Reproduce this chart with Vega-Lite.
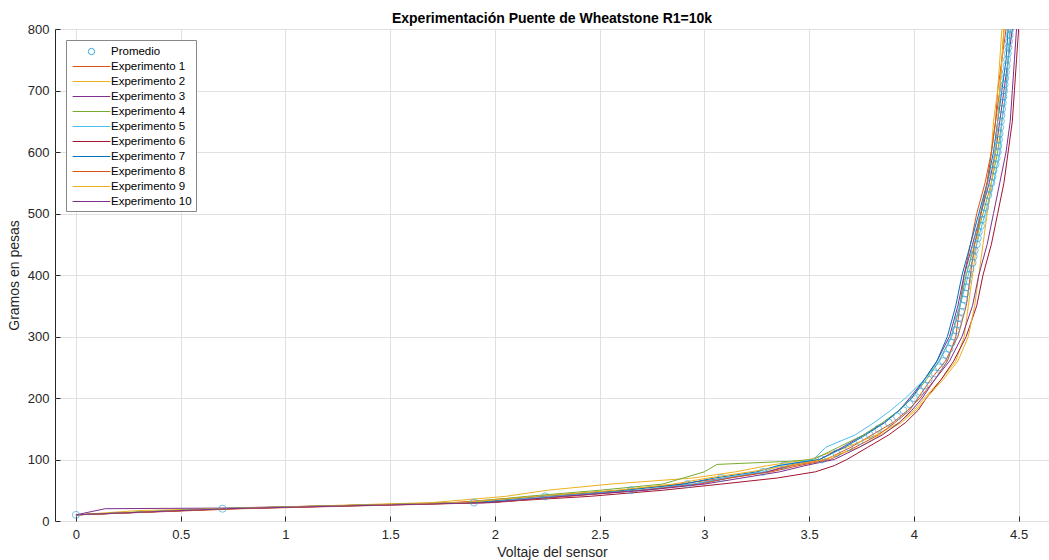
{
  "$schema": "https://vega.github.io/schema/vega-lite/v6.json",
  "autosize": {"type": "none"},
  "padding": {"left": 55, "top": 29, "right": 0, "bottom": 39},
  "width": 994,
  "height": 492,
  "background": "white",
  "title": {"text": "Experimentación Puente de Wheatstone R1=10k", "fontSize": 14, "fontWeight": "bold", "font": "Liberation Sans", "color": "#000000", "offset": -3, "anchor": "middle"},
  "config": {
    "font": "Liberation Sans",
    "view": {"stroke": "#262626", "strokeWidth": 1},
    "axis": {"gridColor": "#e0e0e0", "gridWidth": 1, "domain": false, "tickColor": "#262626", "tickSize": -5, "labelFontSize": 13, "labelColor": "#262626", "titleFontSize": 14, "titleFontWeight": "normal", "titleColor": "#262626", "labelFont": "Liberation Sans", "titleFont": "Liberation Sans"},
    "legend": {"labelFont": "Liberation Sans", "labelFontSize": 11.5, "labelColor": "#000000"}
  },
  "data": {"values": [
    {"s":"Experimento 1","v":0,"g":10},{"s":"Experimento 1","v":0.72,"g":20},{"s":"Experimento 1","v":1.8,"g":30},{"s":"Experimento 1","v":2.2,"g":40},{"s":"Experimento 1","v":2.6,"g":50},{"s":"Experimento 1","v":2.88,"g":60},{"s":"Experimento 1","v":3.1,"g":70},{"s":"Experimento 1","v":3.3,"g":80},{"s":"Experimento 1","v":3.42,"g":90},{"s":"Experimento 1","v":3.58,"g":100},{"s":"Experimento 1","v":3.7,"g":120},{"s":"Experimento 1","v":3.8,"g":140},{"s":"Experimento 1","v":3.9,"g":160},{"s":"Experimento 1","v":3.97,"g":180},{"s":"Experimento 1","v":4.03,"g":200},{"s":"Experimento 1","v":4.1,"g":230},{"s":"Experimento 1","v":4.16,"g":260},{"s":"Experimento 1","v":4.2,"g":300},{"s":"Experimento 1","v":4.22,"g":350},{"s":"Experimento 1","v":4.24,"g":400},{"s":"Experimento 1","v":4.27,"g":450},{"s":"Experimento 1","v":4.3,"g":500},{"s":"Experimento 1","v":4.34,"g":550},{"s":"Experimento 1","v":4.37,"g":600},{"s":"Experimento 1","v":4.39,"g":650},{"s":"Experimento 1","v":4.4,"g":700},{"s":"Experimento 1","v":4.42,"g":750},{"s":"Experimento 1","v":4.43,"g":800},
    {"s":"Experimento 2","v":0,"g":10},{"s":"Experimento 2","v":0.3,"g":17},{"s":"Experimento 2","v":0.7,"g":20},{"s":"Experimento 2","v":1.7,"g":30},{"s":"Experimento 2","v":2.05,"g":40},{"s":"Experimento 2","v":2.25,"g":50},{"s":"Experimento 2","v":2.55,"g":60},{"s":"Experimento 2","v":2.95,"g":70},{"s":"Experimento 2","v":3.15,"g":80},{"s":"Experimento 2","v":3.3,"g":90},{"s":"Experimento 2","v":3.5,"g":100},{"s":"Experimento 2","v":3.68,"g":120},{"s":"Experimento 2","v":3.82,"g":140},{"s":"Experimento 2","v":3.93,"g":160},{"s":"Experimento 2","v":4.0,"g":180},{"s":"Experimento 2","v":4.05,"g":200},{"s":"Experimento 2","v":4.13,"g":230},{"s":"Experimento 2","v":4.2,"g":260},{"s":"Experimento 2","v":4.24,"g":300},{"s":"Experimento 2","v":4.26,"g":350},{"s":"Experimento 2","v":4.28,"g":400},{"s":"Experimento 2","v":4.3,"g":450},{"s":"Experimento 2","v":4.32,"g":500},{"s":"Experimento 2","v":4.35,"g":550},{"s":"Experimento 2","v":4.37,"g":600},{"s":"Experimento 2","v":4.38,"g":650},{"s":"Experimento 2","v":4.4,"g":700},{"s":"Experimento 2","v":4.41,"g":750},{"s":"Experimento 2","v":4.42,"g":800},
    {"s":"Experimento 3","v":0,"g":10},{"s":"Experimento 3","v":0.14,"g":20},{"s":"Experimento 3","v":0.7,"g":21},{"s":"Experimento 3","v":1.95,"g":30},{"s":"Experimento 3","v":2.3,"g":40},{"s":"Experimento 3","v":2.7,"g":50},{"s":"Experimento 3","v":2.95,"g":60},{"s":"Experimento 3","v":3.12,"g":70},{"s":"Experimento 3","v":3.3,"g":80},{"s":"Experimento 3","v":3.4,"g":90},{"s":"Experimento 3","v":3.55,"g":100},{"s":"Experimento 3","v":3.66,"g":120},{"s":"Experimento 3","v":3.76,"g":140},{"s":"Experimento 3","v":3.86,"g":160},{"s":"Experimento 3","v":3.93,"g":180},{"s":"Experimento 3","v":3.98,"g":200},{"s":"Experimento 3","v":4.05,"g":230},{"s":"Experimento 3","v":4.11,"g":260},{"s":"Experimento 3","v":4.17,"g":300},{"s":"Experimento 3","v":4.21,"g":350},{"s":"Experimento 3","v":4.24,"g":400},{"s":"Experimento 3","v":4.28,"g":450},{"s":"Experimento 3","v":4.32,"g":500},{"s":"Experimento 3","v":4.36,"g":550},{"s":"Experimento 3","v":4.39,"g":600},{"s":"Experimento 3","v":4.41,"g":650},{"s":"Experimento 3","v":4.43,"g":700},{"s":"Experimento 3","v":4.45,"g":750},{"s":"Experimento 3","v":4.47,"g":800},
    {"s":"Experimento 4","v":0,"g":10},{"s":"Experimento 4","v":0.65,"g":20},{"s":"Experimento 4","v":1.85,"g":30},{"s":"Experimento 4","v":2.15,"g":40},{"s":"Experimento 4","v":2.5,"g":50},{"s":"Experimento 4","v":2.8,"g":60},{"s":"Experimento 4","v":2.9,"g":70},{"s":"Experimento 4","v":3.0,"g":80},{"s":"Experimento 4","v":3.06,"g":92},{"s":"Experimento 4","v":3.4,"g":97},{"s":"Experimento 4","v":3.52,"g":100},{"s":"Experimento 4","v":3.64,"g":120},{"s":"Experimento 4","v":3.76,"g":140},{"s":"Experimento 4","v":3.85,"g":160},{"s":"Experimento 4","v":3.93,"g":180},{"s":"Experimento 4","v":3.99,"g":200},{"s":"Experimento 4","v":4.06,"g":230},{"s":"Experimento 4","v":4.12,"g":260},{"s":"Experimento 4","v":4.18,"g":300},{"s":"Experimento 4","v":4.22,"g":350},{"s":"Experimento 4","v":4.25,"g":400},{"s":"Experimento 4","v":4.29,"g":450},{"s":"Experimento 4","v":4.33,"g":500},{"s":"Experimento 4","v":4.37,"g":550},{"s":"Experimento 4","v":4.4,"g":600},{"s":"Experimento 4","v":4.42,"g":650},{"s":"Experimento 4","v":4.44,"g":700},{"s":"Experimento 4","v":4.45,"g":750},{"s":"Experimento 4","v":4.46,"g":800},
    {"s":"Experimento 5","v":0,"g":10},{"s":"Experimento 5","v":0.7,"g":20},{"s":"Experimento 5","v":1.95,"g":30},{"s":"Experimento 5","v":2.3,"g":40},{"s":"Experimento 5","v":2.68,"g":50},{"s":"Experimento 5","v":2.95,"g":60},{"s":"Experimento 5","v":3.1,"g":70},{"s":"Experimento 5","v":3.28,"g":80},{"s":"Experimento 5","v":3.36,"g":90},{"s":"Experimento 5","v":3.52,"g":100},{"s":"Experimento 5","v":3.58,"g":120},{"s":"Experimento 5","v":3.72,"g":140},{"s":"Experimento 5","v":3.81,"g":160},{"s":"Experimento 5","v":3.89,"g":180},{"s":"Experimento 5","v":3.96,"g":200},{"s":"Experimento 5","v":4.05,"g":230},{"s":"Experimento 5","v":4.12,"g":260},{"s":"Experimento 5","v":4.18,"g":300},{"s":"Experimento 5","v":4.22,"g":350},{"s":"Experimento 5","v":4.26,"g":400},{"s":"Experimento 5","v":4.3,"g":450},{"s":"Experimento 5","v":4.34,"g":500},{"s":"Experimento 5","v":4.38,"g":550},{"s":"Experimento 5","v":4.41,"g":600},{"s":"Experimento 5","v":4.42,"g":650},{"s":"Experimento 5","v":4.44,"g":700},{"s":"Experimento 5","v":4.45,"g":750},{"s":"Experimento 5","v":4.46,"g":800},
    {"s":"Experimento 6","v":0,"g":10},{"s":"Experimento 6","v":0.75,"g":20},{"s":"Experimento 6","v":1.95,"g":30},{"s":"Experimento 6","v":2.45,"g":40},{"s":"Experimento 6","v":2.8,"g":50},{"s":"Experimento 6","v":3.08,"g":60},{"s":"Experimento 6","v":3.35,"g":70},{"s":"Experimento 6","v":3.53,"g":80},{"s":"Experimento 6","v":3.62,"g":90},{"s":"Experimento 6","v":3.68,"g":100},{"s":"Experimento 6","v":3.78,"g":120},{"s":"Experimento 6","v":3.88,"g":140},{"s":"Experimento 6","v":3.96,"g":160},{"s":"Experimento 6","v":4.02,"g":180},{"s":"Experimento 6","v":4.06,"g":200},{"s":"Experimento 6","v":4.13,"g":230},{"s":"Experimento 6","v":4.19,"g":260},{"s":"Experimento 6","v":4.25,"g":300},{"s":"Experimento 6","v":4.3,"g":350},{"s":"Experimento 6","v":4.33,"g":400},{"s":"Experimento 6","v":4.37,"g":450},{"s":"Experimento 6","v":4.4,"g":500},{"s":"Experimento 6","v":4.43,"g":550},{"s":"Experimento 6","v":4.45,"g":600},{"s":"Experimento 6","v":4.47,"g":650},{"s":"Experimento 6","v":4.48,"g":700},{"s":"Experimento 6","v":4.49,"g":750},{"s":"Experimento 6","v":4.5,"g":800},
    {"s":"Experimento 7","v":0,"g":10},{"s":"Experimento 7","v":0.7,"g":20},{"s":"Experimento 7","v":1.9,"g":30},{"s":"Experimento 7","v":2.22,"g":40},{"s":"Experimento 7","v":2.62,"g":50},{"s":"Experimento 7","v":2.9,"g":60},{"s":"Experimento 7","v":3.05,"g":70},{"s":"Experimento 7","v":3.25,"g":80},{"s":"Experimento 7","v":3.35,"g":90},{"s":"Experimento 7","v":3.55,"g":100},{"s":"Experimento 7","v":3.67,"g":120},{"s":"Experimento 7","v":3.77,"g":140},{"s":"Experimento 7","v":3.86,"g":160},{"s":"Experimento 7","v":3.93,"g":180},{"s":"Experimento 7","v":3.99,"g":200},{"s":"Experimento 7","v":4.05,"g":230},{"s":"Experimento 7","v":4.11,"g":260},{"s":"Experimento 7","v":4.16,"g":300},{"s":"Experimento 7","v":4.2,"g":350},{"s":"Experimento 7","v":4.23,"g":400},{"s":"Experimento 7","v":4.27,"g":450},{"s":"Experimento 7","v":4.31,"g":500},{"s":"Experimento 7","v":4.35,"g":550},{"s":"Experimento 7","v":4.38,"g":600},{"s":"Experimento 7","v":4.4,"g":650},{"s":"Experimento 7","v":4.42,"g":700},{"s":"Experimento 7","v":4.44,"g":750},{"s":"Experimento 7","v":4.45,"g":800},
    {"s":"Experimento 8","v":0,"g":10},{"s":"Experimento 8","v":0.8,"g":20},{"s":"Experimento 8","v":2.0,"g":30},{"s":"Experimento 8","v":2.35,"g":40},{"s":"Experimento 8","v":2.7,"g":50},{"s":"Experimento 8","v":2.98,"g":60},{"s":"Experimento 8","v":3.12,"g":70},{"s":"Experimento 8","v":3.32,"g":80},{"s":"Experimento 8","v":3.45,"g":90},{"s":"Experimento 8","v":3.6,"g":100},{"s":"Experimento 8","v":3.72,"g":120},{"s":"Experimento 8","v":3.83,"g":140},{"s":"Experimento 8","v":3.91,"g":160},{"s":"Experimento 8","v":3.98,"g":180},{"s":"Experimento 8","v":4.02,"g":200},{"s":"Experimento 8","v":4.08,"g":230},{"s":"Experimento 8","v":4.15,"g":260},{"s":"Experimento 8","v":4.21,"g":300},{"s":"Experimento 8","v":4.25,"g":350},{"s":"Experimento 8","v":4.27,"g":400},{"s":"Experimento 8","v":4.29,"g":450},{"s":"Experimento 8","v":4.32,"g":500},{"s":"Experimento 8","v":4.35,"g":550},{"s":"Experimento 8","v":4.37,"g":600},{"s":"Experimento 8","v":4.39,"g":650},{"s":"Experimento 8","v":4.41,"g":700},{"s":"Experimento 8","v":4.42,"g":750},{"s":"Experimento 8","v":4.44,"g":800},
    {"s":"Experimento 9","v":0,"g":10},{"s":"Experimento 9","v":0.68,"g":20},{"s":"Experimento 9","v":1.85,"g":30},{"s":"Experimento 9","v":2.2,"g":40},{"s":"Experimento 9","v":2.58,"g":50},{"s":"Experimento 9","v":2.85,"g":60},{"s":"Experimento 9","v":3.02,"g":70},{"s":"Experimento 9","v":3.22,"g":80},{"s":"Experimento 9","v":3.4,"g":90},{"s":"Experimento 9","v":3.57,"g":100},{"s":"Experimento 9","v":3.74,"g":120},{"s":"Experimento 9","v":3.84,"g":140},{"s":"Experimento 9","v":3.94,"g":160},{"s":"Experimento 9","v":4.01,"g":180},{"s":"Experimento 9","v":4.06,"g":200},{"s":"Experimento 9","v":4.14,"g":230},{"s":"Experimento 9","v":4.21,"g":260},{"s":"Experimento 9","v":4.26,"g":300},{"s":"Experimento 9","v":4.29,"g":350},{"s":"Experimento 9","v":4.31,"g":400},{"s":"Experimento 9","v":4.33,"g":450},{"s":"Experimento 9","v":4.35,"g":500},{"s":"Experimento 9","v":4.37,"g":550},{"s":"Experimento 9","v":4.39,"g":600},{"s":"Experimento 9","v":4.4,"g":650},{"s":"Experimento 9","v":4.41,"g":700},{"s":"Experimento 9","v":4.42,"g":750},{"s":"Experimento 9","v":4.43,"g":800},
    {"s":"Experimento 10","v":0,"g":10},{"s":"Experimento 10","v":0.72,"g":20},{"s":"Experimento 10","v":1.98,"g":30},{"s":"Experimento 10","v":2.32,"g":40},{"s":"Experimento 10","v":2.72,"g":50},{"s":"Experimento 10","v":3.0,"g":60},{"s":"Experimento 10","v":3.18,"g":70},{"s":"Experimento 10","v":3.36,"g":80},{"s":"Experimento 10","v":3.48,"g":90},{"s":"Experimento 10","v":3.62,"g":100},{"s":"Experimento 10","v":3.74,"g":120},{"s":"Experimento 10","v":3.85,"g":140},{"s":"Experimento 10","v":3.93,"g":160},{"s":"Experimento 10","v":3.99,"g":180},{"s":"Experimento 10","v":4.04,"g":200},{"s":"Experimento 10","v":4.1,"g":230},{"s":"Experimento 10","v":4.17,"g":260},{"s":"Experimento 10","v":4.23,"g":300},{"s":"Experimento 10","v":4.28,"g":350},{"s":"Experimento 10","v":4.31,"g":400},{"s":"Experimento 10","v":4.35,"g":450},{"s":"Experimento 10","v":4.38,"g":500},{"s":"Experimento 10","v":4.41,"g":550},{"s":"Experimento 10","v":4.44,"g":600},{"s":"Experimento 10","v":4.46,"g":650},{"s":"Experimento 10","v":4.47,"g":700},{"s":"Experimento 10","v":4.48,"g":750},{"s":"Experimento 10","v":4.49,"g":800},
    {"s":"Promedio","v":0,"g":10},{"s":"Promedio","v":0.7,"g":20},{"s":"Promedio","v":1.9,"g":30},{"s":"Promedio","v":2.24,"g":40},{"s":"Promedio","v":2.65,"g":50},{"s":"Promedio","v":2.92,"g":60},{"s":"Promedio","v":3.08,"g":70},{"s":"Promedio","v":3.28,"g":80},{"s":"Promedio","v":3.38,"g":90},{"s":"Promedio","v":3.56,"g":100},
    {"s":"Promedio","v":3.63,"g":110},{"s":"Promedio","v":3.69,"g":120},{"s":"Promedio","v":3.74,"g":130},{"s":"Promedio","v":3.79,"g":140},{"s":"Promedio","v":3.83,"g":150},{"s":"Promedio","v":3.88,"g":160},{"s":"Promedio","v":3.92,"g":170},{"s":"Promedio","v":3.95,"g":180},{"s":"Promedio","v":3.98,"g":190},{"s":"Promedio","v":4.0,"g":200},
    {"s":"Promedio","v":4.03,"g":210},{"s":"Promedio","v":4.05,"g":220},{"s":"Promedio","v":4.07,"g":230},{"s":"Promedio","v":4.1,"g":240},{"s":"Promedio","v":4.12,"g":250},{"s":"Promedio","v":4.14,"g":260},{"s":"Promedio","v":4.155,"g":270},{"s":"Promedio","v":4.17,"g":280},{"s":"Promedio","v":4.18,"g":290},{"s":"Promedio","v":4.19,"g":300},
    {"s":"Promedio","v":4.2,"g":310},{"s":"Promedio","v":4.21,"g":320},{"s":"Promedio","v":4.215,"g":330},{"s":"Promedio","v":4.225,"g":340},{"s":"Promedio","v":4.23,"g":350},{"s":"Promedio","v":4.24,"g":360},{"s":"Promedio","v":4.245,"g":370},{"s":"Promedio","v":4.25,"g":380},{"s":"Promedio","v":4.255,"g":390},{"s":"Promedio","v":4.26,"g":400},
    {"s":"Promedio","v":4.27,"g":410},{"s":"Promedio","v":4.28,"g":420},{"s":"Promedio","v":4.285,"g":430},{"s":"Promedio","v":4.29,"g":440},{"s":"Promedio","v":4.3,"g":450},{"s":"Promedio","v":4.305,"g":460},{"s":"Promedio","v":4.31,"g":470},{"s":"Promedio","v":4.32,"g":480},{"s":"Promedio","v":4.325,"g":490},{"s":"Promedio","v":4.33,"g":500},
    {"s":"Promedio","v":4.34,"g":510},{"s":"Promedio","v":4.345,"g":520},{"s":"Promedio","v":4.355,"g":530},{"s":"Promedio","v":4.36,"g":540},{"s":"Promedio","v":4.37,"g":550},{"s":"Promedio","v":4.375,"g":560},{"s":"Promedio","v":4.38,"g":570},{"s":"Promedio","v":4.39,"g":580},{"s":"Promedio","v":4.395,"g":590},{"s":"Promedio","v":4.4,"g":600},
    {"s":"Promedio","v":4.403,"g":610},{"s":"Promedio","v":4.406,"g":620},{"s":"Promedio","v":4.409,"g":630},{"s":"Promedio","v":4.412,"g":640},{"s":"Promedio","v":4.415,"g":650},{"s":"Promedio","v":4.418,"g":660},{"s":"Promedio","v":4.421,"g":670},{"s":"Promedio","v":4.424,"g":680},{"s":"Promedio","v":4.427,"g":690},{"s":"Promedio","v":4.43,"g":700},
    {"s":"Promedio","v":4.433,"g":710},{"s":"Promedio","v":4.436,"g":720},{"s":"Promedio","v":4.439,"g":730},{"s":"Promedio","v":4.442,"g":740},{"s":"Promedio","v":4.445,"g":750},{"s":"Promedio","v":4.448,"g":760},{"s":"Promedio","v":4.451,"g":770},{"s":"Promedio","v":4.454,"g":780},{"s":"Promedio","v":4.457,"g":790},{"s":"Promedio","v":4.46,"g":800}
  ]},
  "encoding": {
    "x": {"field": "v", "type": "quantitative", "title": "Voltaje del sensor", "scale": {"domain": [-0.1, 4.645], "nice": false, "zero": false},
      "axis": {"values": [0, 0.5, 1, 1.5, 2, 2.5, 3, 3.5, 4, 4.5], "labelPadding": 12, "titlePadding": 4, "format": "~g"}},
    "y": {"field": "g", "type": "quantitative", "title": "Gramos en pesas", "scale": {"domain": [0, 800], "nice": false},
      "axis": {"values": [0, 100, 200, 300, 400, 500, 600, 700, 800], "labelPadding": 11, "titlePadding": 6}},
    "color": {"field": "s", "type": "nominal", "title": null,
      "scale": {"domain": ["Promedio","Experimento 1","Experimento 2","Experimento 3","Experimento 4","Experimento 5","Experimento 6","Experimento 7","Experimento 8","Experimento 9","Experimento 10"],
        "range": ["#3DA5DA","#D95319","#EDB120","#7E2F8E","#77AC30","#4DBEEE","#A2142F","#0072BD","#D95319","#EDB120","#7E2F8E"]},
      "legend": {"orient": "top-left", "offset": 11, "padding": 4, "strokeColor": "#888888", "fillColor": "#ffffff", "symbolSize": 196, "symbolOffset": 14, "labelOffset": 12, "rowPadding": 2, "symbolStrokeWidth": 1,
        "encode": {"symbols": {"update": {
          "shape": {"signal": "datum.label === 'Promedio' ? 'circle' : 'M-2.7,0H2.7'"},
          "size": {"signal": "datum.label === 'Promedio' ? 40 : 196"},
          "fill": {"value": "transparent"},
          "stroke": {"scale": "color", "field": "value"},
          "strokeWidth": {"value": 1}}}}}}
  },
  "layer": [
    {"transform": [{"filter": "datum.s !== 'Promedio'"}],
     "mark": {"type": "line", "strokeWidth": 1, "clip": true},
     "encoding": {"order": {"field": "g", "type": "quantitative"}}},
    {"transform": [{"filter": "datum.s === 'Promedio'"}],
     "mark": {"type": "point", "shape": "circle", "filled": false, "size": 50, "strokeWidth": 1, "clip": true}}
  ]
}
